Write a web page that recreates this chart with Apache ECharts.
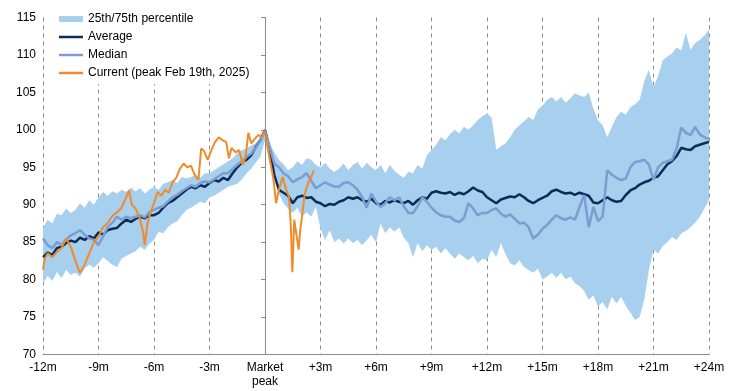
<!DOCTYPE html>
<html>
<head>
<meta charset="utf-8">
<script src="https://cdn.jsdelivr.net/npm/echarts@6/dist/echarts.min.js"></script>
<style>html,body{margin:0;padding:0;background:#fff}#c{width:731px;height:391px}</style>
</head>
<body>
<div id="c"></div>
<script>
// x positions (months relative to market peak), quarter-month steps
const monthStart = -12, monthStep = 0.25;
const xTickLabels = {'-12':'-12m','-9':'-9m','-6':'-6m','-3':'-3m','0':'Market\npeak','3':'+3m','6':'+6m','9':'+9m','12':'+12m','15':'+15m','18':'+18m','21':'+21m','24':'+24m'};

const average = [
83.0,83.6,83.3,84.2, 84.4,84.9,85.2,85.0, 85.6,85.3,85.8,85.5, 86.3,86.0,86.6,86.8,
86.9,87.5,88.0,87.7, 88.1,88.4,88.2,88.6, 88.6,88.9,89.6,90.2, 90.5,91.0,91.5,92.0,
92.4,92.2,92.6,92.4, 92.9,93.3,93.1,93.6, 93.3,94.2,95.0,95.6, 96.0,96.6,97.7,98.6,
100.0,97.5,94.0,92.0, 91.6,91.2,90.2,91.0, 91.2,90.9,91.0,90.4, 90.2,89.8,90.1,90.0,
90.4,90.6,91.0,90.8, 91.0,90.6,90.4,90.8, 90.2,90.0,90.5,90.3, 90.6,90.4,90.2,90.5,
90.0,90.6,91.0,90.8, 91.6,91.8,91.6,91.5, 91.7,91.3,91.6,91.4, 91.8,92.3,91.9,91.7,
91.0,90.6,90.2,90.7, 90.9,91.1,91.0,91.4, 91.0,90.5,90.2,90.6, 90.9,91.2,91.8,92.0,
91.7,91.5,91.6,91.3, 91.6,91.4,91.2,90.3, 90.2,90.6,91.0,90.6, 90.4,90.5,91.3,91.9,
92.2,92.7,93.0,93.2, 93.6,93.8,94.6,95.4, 95.8,96.5,97.6,97.4, 97.3,97.8,98.0,98.2,
98.4];

const median = [
85.5,84.6,84.2,85.0, 84.6,85.4,85.9,86.2, 86.6,86.0,85.5,85.3, 84.6,85.8,87.0,87.6,
88.4,88.0,88.4,88.2, 88.4,88.6,88.3,89.0, 89.3,89.6,89.8,90.4, 91.0,91.3,91.8,92.2,
92.6,92.4,92.9,93.1, 93.0,93.4,93.8,94.2, 94.2,94.8,95.3,95.8, 96.4,96.8,97.6,98.6,
99.8,97.7,95.5,95.0, 94.2,93.8,93.0,93.4, 93.7,94.2,93.2,92.2, 92.6,93.0,92.7,92.4,
92.4,92.9,93.0,92.6, 92.0,91.0,89.6,91.5, 90.4,89.7,90.2,91.0, 90.6,91.0,89.8,88.9,
88.9,89.8,91.0,90.4, 89.6,89.0,88.6,88.4, 88.4,87.9,87.7,88.2, 90.2,89.5,88.6,88.9,
88.9,89.3,89.5,88.8, 88.4,88.7,88.1,87.5, 87.6,87.0,85.5,86.0, 86.8,87.3,88.0,88.6,
88.2,88.0,88.3,88.0, 89.7,91.3,87.0,89.7, 87.8,88.4,94.6,94.0, 93.6,93.3,93.5,95.0,
95.7,95.8,96.0,95.4, 93.3,95.0,95.6,95.8, 96.0,97.5,100.3,99.6, 99.3,100.4,99.4,99.0,
98.8];

const pct75 = [
86.9,88.0,87.5,88.8, 88.6,89.5,88.9,89.3, 90.2,89.6,90.6,90.0, 91.0,91.7,91.2,91.8,
91.5,92.0,91.7,92.3, 91.8,92.2,91.5,92.0, 92.4,92.0,92.8,93.0, 93.3,92.9,93.7,93.5,
93.7,94.0,93.6,94.2, 94.2,94.6,95.0,95.4, 95.8,96.2,96.9,97.3, 97.5,97.9,98.2,99.0,
100.2,98.2,97.0,96.0, 95.4,94.6,95.0,95.8, 95.3,96.2,96.0,95.3, 95.0,95.6,94.8,94.4,
94.8,95.5,94.6,95.3, 95.7,94.8,95.6,95.0, 94.6,95.3,94.2,95.3, 94.5,94.0,93.6,94.4,
94.2,95.3,94.8,96.6, 97.3,98.0,99.0,98.6, 99.4,100.0,99.5,100.4, 100.0,100.6,101.3,101.8,
102.2,101.6,97.3,97.8, 98.2,99.0,100.0,100.6, 101.1,101.7,101.3,102.7, 103.2,104.0,104.4,103.8,
104.4,103.6,104.2,104.9, 104.6,104.4,105.0,102.8, 101.3,100.6,99.0,100.4, 101.7,102.4,102.0,103.0,
103.4,104.0,106.5,108.0, 105.7,107.2,109.3,109.8, 110.2,111.0,110.6,113.0, 110.7,111.6,112.0,112.6,
113.4];

const pct25 = [
79.5,80.5,79.8,81.0, 80.2,81.3,80.6,80.9, 80.4,81.5,82.0,81.6, 82.2,83.0,82.5,82.0,
81.7,82.8,83.2,83.5, 83.8,84.4,84.0,84.8, 85.3,86.4,86.2,87.0, 87.5,87.8,88.6,89.3,
89.6,90.0,90.4,90.2, 91.0,91.2,91.6,92.0, 92.4,92.6,92.8,93.4, 94.2,94.8,95.6,96.4,
98.6,96.0,93.8,91.5, 90.2,89.5,88.9,89.6, 88.4,89.0,88.4,89.7, 86.8,85.3,86.6,85.0,
85.5,84.8,85.5,84.9, 85.3,84.6,85.3,86.0, 85.0,87.5,86.2,87.0, 86.4,87.0,85.6,84.9,
83.0,84.9,83.8,84.6, 84.0,84.4,83.5,84.2, 83.5,82.8,83.5,83.0, 82.6,83.2,82.2,82.8,
82.6,84.0,83.0,84.9, 83.4,82.2,81.9,82.6, 81.7,81.3,80.9,81.5, 80.0,80.4,80.9,80.2,
80.9,80.0,80.4,79.5, 79.1,78.5,77.3,77.9, 76.4,77.0,76.0,77.7, 76.8,77.7,76.5,75.6,
74.6,75.0,77.3,81.3, 84.0,83.5,84.5,85.0, 85.7,85.3,86.2,86.5, 87.0,87.6,88.4,89.5,
90.6];

// current cycle: [month, value]
const currentMonths = [-12,-11.9,-11.75,-11.5,-11.25,-11,-10.75,-10.5,-10.25,-10,-9.75,-9.5,-9.25,-9,-8.75,-8.5,-8.25,-8,-7.75,-7.5,-7.35,-7.2,-7,-6.8,-6.6,-6.5,-6.35,-6.2,-6,-5.8,-5.6,-5.4,-5.2,-5,-4.8,-4.6,-4.4,-4.2,-4,-3.8,-3.6,-3.45,-3.3,-3.1,-2.9,-2.7,-2.5,-2.3,-2.1,-1.95,-1.8,-1.6,-1.4,-1.2,-1.05,-0.9,-0.75,-0.55,-0.35,-0.15,0,0.15,0.3,0.45,0.6,0.75,0.95,1.15,1.3,1.4,1.48,1.58,1.7,1.82,1.9,2.0,2.15,2.35,2.5,2.65];
const currentValues = [81.3,82.8,83.5,83.0,83.7,84.2,85.5,84.4,82.5,80.9,82.0,83.5,85.0,85.7,87.0,87.6,88.5,89.0,89.6,91.0,91.9,90.0,89.5,88.4,86.5,84.6,87.5,88.9,90.2,91.7,91.2,92.0,91.6,93.0,93.6,94.8,95.5,95.0,95.2,94.0,93.3,97.5,97.2,96.0,97.3,98.4,99.0,98.6,98.4,96.2,97.6,97.0,97.3,95.3,96.4,99.6,98.2,98.8,99.3,99.0,100.0,97.5,95.5,93.5,90.2,92.0,93.7,92.0,91.0,87.0,81.0,88.0,86.0,84.0,86.5,88.4,91.5,93.0,93.7,94.6];

const xAt = i => monthStart + i * monthStep;
const pairs = arr => arr.map((v, i) => [xAt(i), v]);

const BAND = '#a7cfee';
const FONT = '"Liberation Sans", Arial, sans-serif';
const LINE_ICON = 'path://M0,0H24V2.5H0Z';
const chart = echarts.init(document.getElementById('c'), null, {renderer: 'canvas'});
chart.setOption({
  animation: false,
  backgroundColor: '#fff',
  textStyle: {fontFamily: FONT},
  grid: {left: 43, right: 22, top: 17.5, bottom: 36.5, containLabel: false},
  legend: {
    orient: 'vertical', left: 56, top: 10, padding: [2, 4, 4, 3], z: 10,
    backgroundColor: '#fff', itemWidth: 24, itemHeight: 6, itemGap: 4,
    textStyle: {fontFamily: FONT, fontSize: 12, color: '#000', lineHeight: 14},
    data: [
      {name: '25th/75th percentile', icon: 'rect'},
      {name: 'Average', icon: LINE_ICON},
      {name: 'Median', icon: LINE_ICON},
      {name: 'Current (peak Feb 19th, 2025)', icon: LINE_ICON}
    ]
  },
  xAxis: {
    type: 'value', min: -12, max: 24, interval: 3, z: 0,
    axisLine: {show: true, lineStyle: {color: '#8c8c8c', width: 1}},
    axisTick: {show: false},
    axisLabel: {color: '#000', fontSize: 12, fontFamily: FONT, margin: 6, lineHeight: 14,
      formatter: v => xTickLabels[String(v)] || ''},
    splitLine: {show: true, lineStyle: {color: '#8c8c8c', type: [4, 4], width: 1}}
  },
  yAxis: {
    type: 'value', min: 70, max: 115, interval: 5, z: 6,
    axisLine: {show: true, lineStyle: {color: '#8c8c8c', width: 1}},
    axisTick: {show: true, length: 4, lineStyle: {color: '#8c8c8c'}},
    axisLabel: {color: '#000', fontSize: 12, fontFamily: FONT, margin: 7},
    splitLine: {show: false}
  },
  series: [
    {name: '25th/75th percentile', type: 'custom', data: [[0, 90]], silent: true, z: 2,
      itemStyle: {color: BAND},
      renderItem: (params, api) => {
        if (params.dataIndex !== 0) return null;
        const pts = [];
        pct75.forEach((v, i) => pts.push(api.coord([xAt(i), v])));
        for (let i = pct25.length - 1; i >= 0; i--) pts.push(api.coord([xAt(i), pct25[i]]));
        return {type: 'polygon', shape: {points: pts}, style: {fill: BAND, stroke: null}};
      }},
    {name: 'Average', type: 'line', data: pairs(average), symbol: 'none',
      itemStyle: {color: '#0a2d58'}, lineStyle: {color: '#0a2d58', width: 2.5}, z: 3},
    {name: 'Median', type: 'line', data: pairs(median), symbol: 'none',
      itemStyle: {color: '#7d9cd0'}, lineStyle: {color: '#7d9cd0', width: 2.5}, z: 4},
    {name: 'Current (peak Feb 19th, 2025)', type: 'line',
      data: currentMonths.map((m, i) => [m, currentValues[i]]), symbol: 'none',
      itemStyle: {color: '#f08a2a'}, lineStyle: {color: '#f08a2a', width: 2}, z: 5}
  ]
});
</script>
</body>
</html>
